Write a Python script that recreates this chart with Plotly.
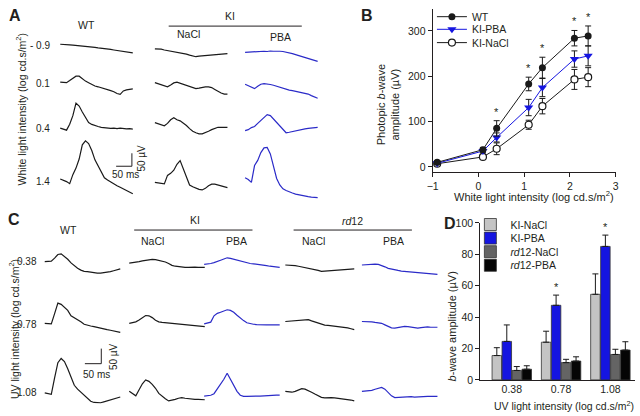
import plotly.graph_objects as go

W, H = 640, 416
FONT = "Liberation Sans, Arial, sans-serif"
TXT = "#231f20"
BLK = "#1a1a1a"
BLUE_TRACE = "#2b2bc8"
BLUE = "#1515e0"

# ---------------- data ----------------
t_ms = list(range(0, 240, 10))

# Panel A: photopic ERG traces (µV) for white light rows
a_rows = ["- 0.9", "0.1", "0.4", "1.4"]
a_wt = [
    [6, 6, 5, 4, 3, 2, 1, -1, -2, -3, -5, -6, -8, -9, -11, -13, -14, -16, -18, -19, -21, -23, -25, -27],
    [6, 5, 4, 12, 22, 29, 29, 19, 10, 4, -3, -9, -12, -15, -19, -23, -27, -31, -38, -41, -28, -24, -22, -20],
    [0, -3, -8, 15, 48, 96, 85, 62, 40, 21, 14, 9, 6, 3, 1, 0, -1, 0, -2, 0, -2, -3, -2, -4],
    [8, 4, -2, -10, 25, 50, 85, 140, 155, 145, 118, 82, 60, 35, 13, 4, -4, -11, -18, -24, -30, -37, -43, -49],
]
a_ki_nacl = [
    [-12, -12, -13, -16, -18, -20, -22, -24, -27, -30, -32, -36, -40, -42, -40, -39, -38, -36, -35, -34, -33, -32, -31, -30],
    [4, 0, -5, -10, -12, -5, 3, 6, 2, -3, -8, -12, -16, -19, -17, -14, -12, -12, -15, -22, -30, -36, -40, -40],
    [21, 17, 12, 9, 18, 32, 40, 32, 28, 20, 10, -2, -12, -18, -22, -22, -18, -12, -6, 0, 3, 3, 2, 3],
    [-5, -7, -9, -11, 22, 30, 42, 65, 79, 50, 15, -15, -22, -28, -32, -34, -28, -18, -12, -12, -16, -20, -23, -25],
]
a_ki_pba = [
    [-25, -24, -23, -23, -22, -22, -21, -22, -20, -21, -20, -21, -22, -24, -27, -30, -34, -38, -42, -46, -50, -54, -57, -60],
    [-2, -8, -14, -19, -10, -2, 0, -1, -3, -6, -10, -13, -17, -21, -25, -27, -30, -33, -35, -37, -40, -46, -52, -56],
    [-10, -6, 2, 6, 18, 30, 42, 52, 48, 35, 18, 5, -8, -18, -16, -13, -10, -8, -5, -3, -1, 0, 2, 3],
    [13, 6, -5, 60, 80, 110, 128, 130, 105, 60, 10, -15, -30, -36, -42, -46, -50, -53, -55, -58, -60, -62, -63, -64],
]

# Panel B: photopic b-wave amplitude (µV)
b_x = [-0.9, 0.1, 0.4, 1.1, 1.4, 2.1, 2.4]
b_wt = [10, 38, 85, 183, 219, 284, 289]
b_wt_err = [4, 5, 17, 15, 23, 17, 22]
b_ki_pba = [8, 35, 65, 131, 175, 238, 245]
b_ki_pba_err = [3, 4, 10, 18, 20, 18, 22]
b_ki_nacl = [7, 22, 40, 93, 134, 193, 198]
b_ki_nacl_err = [3, 4, 13, 10, 17, 22, 21]

# Panel C: UV-light ERG traces (µV)
c_rows = ["0.38", "0.78", "1.08"]
c_wt = [
    [0, 0, 2, 12, 24, 26, 18, 8, -4, -14, -22, -28, -32, -33, -35, -36, -38, -38, -37, -36, -33, -30, -27, -24],
    [5, 4, 3, 37, 72, 68, 58, 48, 30, 24, 18, 10, 2, -2, -4, -6, -9, -11, -14, -16, -18, -20, -23, -25],
    [0, -2, -5, 50, 100, 114, 104, 80, 50, 25, 12, 2, -8, -20, -28, -32, -33, -33, -30, -27, -24, -20, -17, -14],
]
c_ki_nacl = [
    [-5, -4, -3, 0, 3, 5, 7, 8, 7, 5, 2, -1, -6, -12, -15, -17, -18, -19, -19, -18, -18, -19, -19, -19],
    [5, 7, 10, 16, 24, 31, 30, 24, 15, 10, 8, 7, 6, 5, 5, 4, 3, 2, 0, -1, -2, -4, -5, -6],
    [5, -2, -10, 10, 30, 43, 38, 28, 15, -2, -12, -20, -27, -25, -22, -18, -16, -18, -20, -21, -22, -22, -23, -23],
]
c_ki_pba = [
    [-9, -8, -6, -3, 0, 5, 9, 13, 11, 8, 5, 2, -2, -5, -6, -7, -8, -9, -11, -13, -15, -17, -18, -19],
    [3, 5, 9, 30, 38, 42, 46, 50, 48, 42, 32, 22, 14, 7, 4, 2, 1, 0, 0, 0, 0, 0, 0, 0],
    [-11, -10, -8, -3, 12, 28, 45, 65, 45, 25, 5, -8, -12, -12, -11, -10, -11, -11, -10, -9, -8, -8, -8, -8],
]
c_rd_nacl = [
    [-11, -11, -12, -13, -15, -17, -20, -22, -24, -26, -29, -32, -31, -30, -29, -28, -27, -27, -26, -25, -25, -24],
    [11, 12, 13, 14, 16, 17, 18, 17, 13, 9, 5, 1, -1, -2, -3, -4, -5, -6, -8, -10, -13, -16],
    [5, 3, 2, 5, 10, 14, 12, 8, 2, -4, -10, -15, -17, -16, -16, -17, -18, -19, -20, -22, -24, -27],
]
c_rd_pba = [
    [-11, -10, -9, -8, -8, -9, -12, -17, -22, -25, -27, -29, -31, -32, -33, -35, -36, -37, -38, -38, -39, -40, -41, -42],
    [11, 11, 10, 10, 8, 7, 5, 0, -5, -10, -11, -9, -7, -5, -6, -8, -10, -11, -9, -7, -7, -8, -8, -8],
    [5, 6, 7, 8, 12, 16, 18, 12, 0, -10, -16, -15, -14, -14, -14, -13, -14, -13, -12, -12, -12, -12, -12, -12],
]

# Panel D: UV b-wave amplitude (µV)
d_cats = ["0.38", "0.78", "1.08"]
d_ki_nacl = [15.5, 24, 54.5]
d_ki_nacl_err = [5, 7, 13]
d_ki_pba = [24.5, 47.5, 85]
d_ki_pba_err = [10.5, 6.5, 7.2]
d_rd_nacl = [6, 11, 16.2]
d_rd_nacl_err = [2.5, 2.1, 3.3]
d_rd_pba = [6.8, 12, 19]
d_rd_pba_err = [2.2, 2.7, 5.3]

# ---------------- layout geometry (pixels) ----------------
SXA, SYA = 0.32, 0.267     # px per ms, px per µV (panel A)
SXC, SYC = 0.333, 0.31     # panel C
A_COLS = [55, 151, 242.5]
A_ROWS = [41, 80, 125.7, 180.3]
C_COLS = [39.3, 125, 201, 283.3, 361]
C_ROWS = [263.3, 328.3, 398.3]
A_BOX = (0, 0, 330, 208)      # x0, y0, x1, y1 in px
C_BOX = (0, 208, 445, 416)


def fx(p):
    return p / W


def fy(p):
    return 1 - p / H


fig = go.Figure()

# Panel A traces
a_sets = [(a_wt, BLK), (a_ki_nacl, BLK), (a_ki_pba, BLUE_TRACE)]
for ci, (sets, col) in enumerate(a_sets):
    for ri, vals in enumerate(sets):
        fig.add_trace(go.Scatter(
            x=[A_COLS[ci] / SXA + t for t in t_ms[:len(vals)]],
            y=[-A_ROWS[ri] / SYA + v for v in vals],
            mode="lines", line=dict(color=col, width=1.2),
            xaxis="x", yaxis="y", showlegend=False, hoverinfo="skip"))

# Panel C traces
c_sets = [(c_wt, BLK), (c_ki_nacl, BLK), (c_ki_pba, BLUE_TRACE),
          (c_rd_nacl, BLK), (c_rd_pba, BLUE_TRACE)]
for ci, (sets, col) in enumerate(c_sets):
    for ri, vals in enumerate(sets):
        fig.add_trace(go.Scatter(
            x=[C_COLS[ci] / SXC + t for t in t_ms[:len(vals)]],
            y=[-(C_ROWS[ri] - C_BOX[1]) / SYC + v for v in vals],
            mode="lines", line=dict(color=col, width=1.2),
            xaxis="x3", yaxis="y3", showlegend=False, hoverinfo="skip"))

# Panel B
errstyle = dict(color=BLK, thickness=1, width=3)
fig.add_trace(go.Scatter(
    x=b_x, y=b_ki_nacl, error_y=dict(array=b_ki_nacl_err, **errstyle),
    mode="lines+markers", name="KI-NaCl", line=dict(color=BLK, width=1),
    marker=dict(symbol="circle", size=7, color="white", line=dict(color=BLK, width=1.2)),
    xaxis="x2", yaxis="y2", legend="legend3"))
fig.add_trace(go.Scatter(
    x=b_x, y=b_ki_pba, error_y=dict(array=b_ki_pba_err, **errstyle),
    mode="lines+markers", name="KI-PBA", line=dict(color=BLUE, width=1),
    marker=dict(symbol="triangle-down", size=8, color=BLUE),
    xaxis="x2", yaxis="y2", legend="legend2"))
fig.add_trace(go.Scatter(
    x=b_x, y=b_wt, error_y=dict(array=b_wt_err, **errstyle),
    mode="lines+markers", name="WT", line=dict(color=BLK, width=1),
    marker=dict(symbol="circle", size=7, color=BLK),
    xaxis="x2", yaxis="y2", legend="legend"))

# Panel D
bar_specs = [
    ("KI-NaCl", d_ki_nacl, d_ki_nacl_err, "#c4c4c4", "legend4"),
    ("KI-PBA", d_ki_pba, d_ki_pba_err, BLUE, "legend5"),
    ("<i>rd</i>12-NaCl", d_rd_nacl, d_rd_nacl_err, "#646464", "legend6"),
    ("<i>rd</i>12-PBA", d_rd_pba, d_rd_pba_err, "#050505", "legend7"),
]
for name, vals, err, col, leg in bar_specs:
    fig.add_trace(go.Bar(
        x=d_cats, y=vals, name=name,
        marker=dict(color=col, line=dict(color="#333", width=0.8)),
        error_y=dict(type="data", array=err, arrayminus=[0] * len(err), symmetric=False,
                     color=BLK, thickness=1, width=3),
        xaxis="x4", yaxis="y4", legend=leg))

# ---------------- annotations ----------------
anns = []


def ann(text, px, py, size=10.5, xanchor="center", yanchor="middle", angle=0, **kw):
    d = dict(text=text, x=fx(px), y=fy(py), xref="paper", yref="paper", showarrow=False,
             font=dict(family=FONT, size=size, color=TXT), xanchor=xanchor,
             yanchor=yanchor, textangle=angle)
    d.update(kw)
    anns.append(d)


# panel letters
ann("<b>A</b>", 9, 10, size=16)
ann("<b>B</b>", 366, 10, size=16)
ann("<b>C</b>", 8, 220, size=16)
ann("<b>D</b>", 450, 224, size=16)

# panel A labels
ann("WT", 81.7, 20)
ann("KI", 227.7, 10.5)
ann("NaCl", 185, 29.3)
ann("PBA", 278, 31.7)
for lab, py in zip(a_rows, A_ROWS):
    ann(lab, 46.5, py, size=10, xanchor="right")
ann("White light intensity (log cd.s/m<sup>2</sup>)", 15, 106.7, size=10.5, angle=-90)
ann("50 ms", 121.7, 174, size=10)
ann("50 µV", 137, 157, size=10, angle=-90)

# panel C labels
ann("WT", 63.3, 230.7)
ann("KI", 191.7, 220)
ann("NaCl", 148.3, 241.7)
ann("PBA", 233.3, 241.7)
ann("<i>rd</i>12", 351.7, 221.3)
ann("NaCl", 312, 241.7)
ann("PBA", 392.7, 241.7)
for lab, py in zip(c_rows, C_ROWS):
    ann(lab, 33.5, py, size=10, xanchor="right")
ann("UV light intensity (log cd.s/m<sup>2</sup>)", 8.3, 332.5, size=10.5, angle=-90)
ann("50 ms", 91.7, 379, size=10)
ann("50 µV", 108.5, 360.5, size=10, angle=-90)

# axis titles B, D
ann("Photopic <i>b</i>-wave<br>amplitude (µV)", 387, 101.7, size=11, angle=-90)
ann("White light intensity (log cd.s/m<sup>2</sup>)", 535.8, 196, size=11)
ann("<i>b</i>-wave amplitude (µV)", 453.3, 330, size=11, angle=-90)
ann("UV light intensity (log cd.s/m<sup>2</sup>)", 566, 411.5, size=10.5)

# significance stars
for xv, yv, e in zip(b_x[2:], b_wt[2:], b_wt_err[2:]):
    anns.append(dict(text="*", x=xv, y=yv + e, xref="x2", yref="y2", showarrow=False,
                     yanchor="bottom", yshift=1, font=dict(family=FONT, size=11, color=TXT)))
for i in (1, 2):
    anns.append(dict(text="*", x=i, y=d_ki_pba[i] + d_ki_pba_err[i], xref="x4", yref="y4",
                     showarrow=False, yanchor="bottom", xshift=-5, yshift=0,
                     font=dict(family=FONT, size=11, color=TXT)))

# ---------------- shapes ----------------
shapes = []
line_style = dict(color=TXT, width=1)
# group lines
for x0, x1, py in [(165, 300, 20.7), (130, 250, 230.7), (291.7, 411.7, 230.7)]:
    shapes.append(dict(type="line", xref="paper", yref="paper", x0=fx(x0), x1=fx(x1),
                       y0=fy(py), y1=fy(py), line=line_style))
# scale bars (50 ms x 50 µV)
sa_x, sa_y = 111.7 / SXA, -165 / SYA
shapes.append(dict(type="line", xref="x", yref="y", x0=sa_x, x1=sa_x + 50, y0=sa_y, y1=sa_y, line=line_style))
shapes.append(dict(type="line", xref="x", yref="y", x0=sa_x + 50, x1=sa_x + 50, y0=sa_y, y1=sa_y + 50, line=line_style))
sc_x, sc_y = 80 / SXC, -(368.3 - C_BOX[1]) / SYC
shapes.append(dict(type="line", xref="x3", yref="y3", x0=sc_x, x1=sc_x + 50, y0=sc_y, y1=sc_y, line=line_style))
shapes.append(dict(type="line", xref="x3", yref="y3", x0=sc_x + 50, x1=sc_x + 50, y0=sc_y, y1=sc_y + 50, line=line_style))

# ---------------- axes ----------------
hidden = dict(visible=False, fixedrange=True)
axis_common = dict(showline=True, linecolor=TXT, linewidth=1, ticks="outside", ticklen=4,
                   tickcolor=TXT, showgrid=False, zeroline=False,
                   tickfont=dict(family=FONT, size=10.5, color=TXT))

legend_common = dict(bgcolor="rgba(0,0,0,0)", borderwidth=0, xanchor="left", yanchor="middle",
                     font=dict(family=FONT, size=10.5, color=TXT), itemwidth=30)
legends = {}
for key, py in [("legend", 11), ("legend2", 24), ("legend3", 37.7)]:
    legends[key] = dict(x=fx(432), y=fy(py), **legend_common)
for key, py in [("legend4", 225), ("legend5", 239), ("legend6", 253), ("legend7", 267)]:
    legends[key] = dict(x=fx(471), y=fy(py), **legend_common)

fig.update_layout(
    width=W, height=H, margin=dict(l=0, r=0, t=0, b=0),
    paper_bgcolor="white", plot_bgcolor="white",
    font=dict(family=FONT, size=10.5, color=TXT),
    xaxis=dict(domain=[fx(A_BOX[0]), fx(A_BOX[2])], range=[A_BOX[0] / SXA, A_BOX[2] / SXA], **hidden),
    yaxis=dict(domain=[fy(A_BOX[3]), fy(A_BOX[1])], range=[-A_BOX[3] / SYA, -A_BOX[1] / SYA], **hidden),
    xaxis3=dict(domain=[fx(C_BOX[0]), fx(C_BOX[2])], range=[C_BOX[0] / SXC, C_BOX[2] / SXC], **hidden),
    yaxis3=dict(domain=[fy(C_BOX[3]), fy(C_BOX[1])], range=[-(C_BOX[3] - C_BOX[1]) / SYC, 0], **hidden),
    xaxis2=dict(domain=[fx(432.7), fx(618.3)], range=[-1, 3], tickvals=[-1, 0, 1, 2, 3],
                anchor="y2", **axis_common),
    yaxis2=dict(domain=[fy(171), fy(3)], range=[-11.4, 348.6], tickvals=[0, 100, 200, 300],
                anchor="x2", **axis_common),
    xaxis4=dict(domain=[fx(481), fx(638)], range=[-0.64, 2.5], type="category",
                anchor="y4", **{**axis_common, "ticks": ""}),
    yaxis4=dict(domain=[fy(385), fy(223.3)], range=[0, 100], tickvals=[0, 20, 40, 60, 80, 100],
                anchor="x4", **axis_common),
    barmode="group", bargap=0.19, bargroupgap=0.05,
    annotations=anns, shapes=shapes,
    **legends,
)

fig.write_html("out.html", config={"displayModeBar": False},
               post_script="document.body.style.margin='0';")
